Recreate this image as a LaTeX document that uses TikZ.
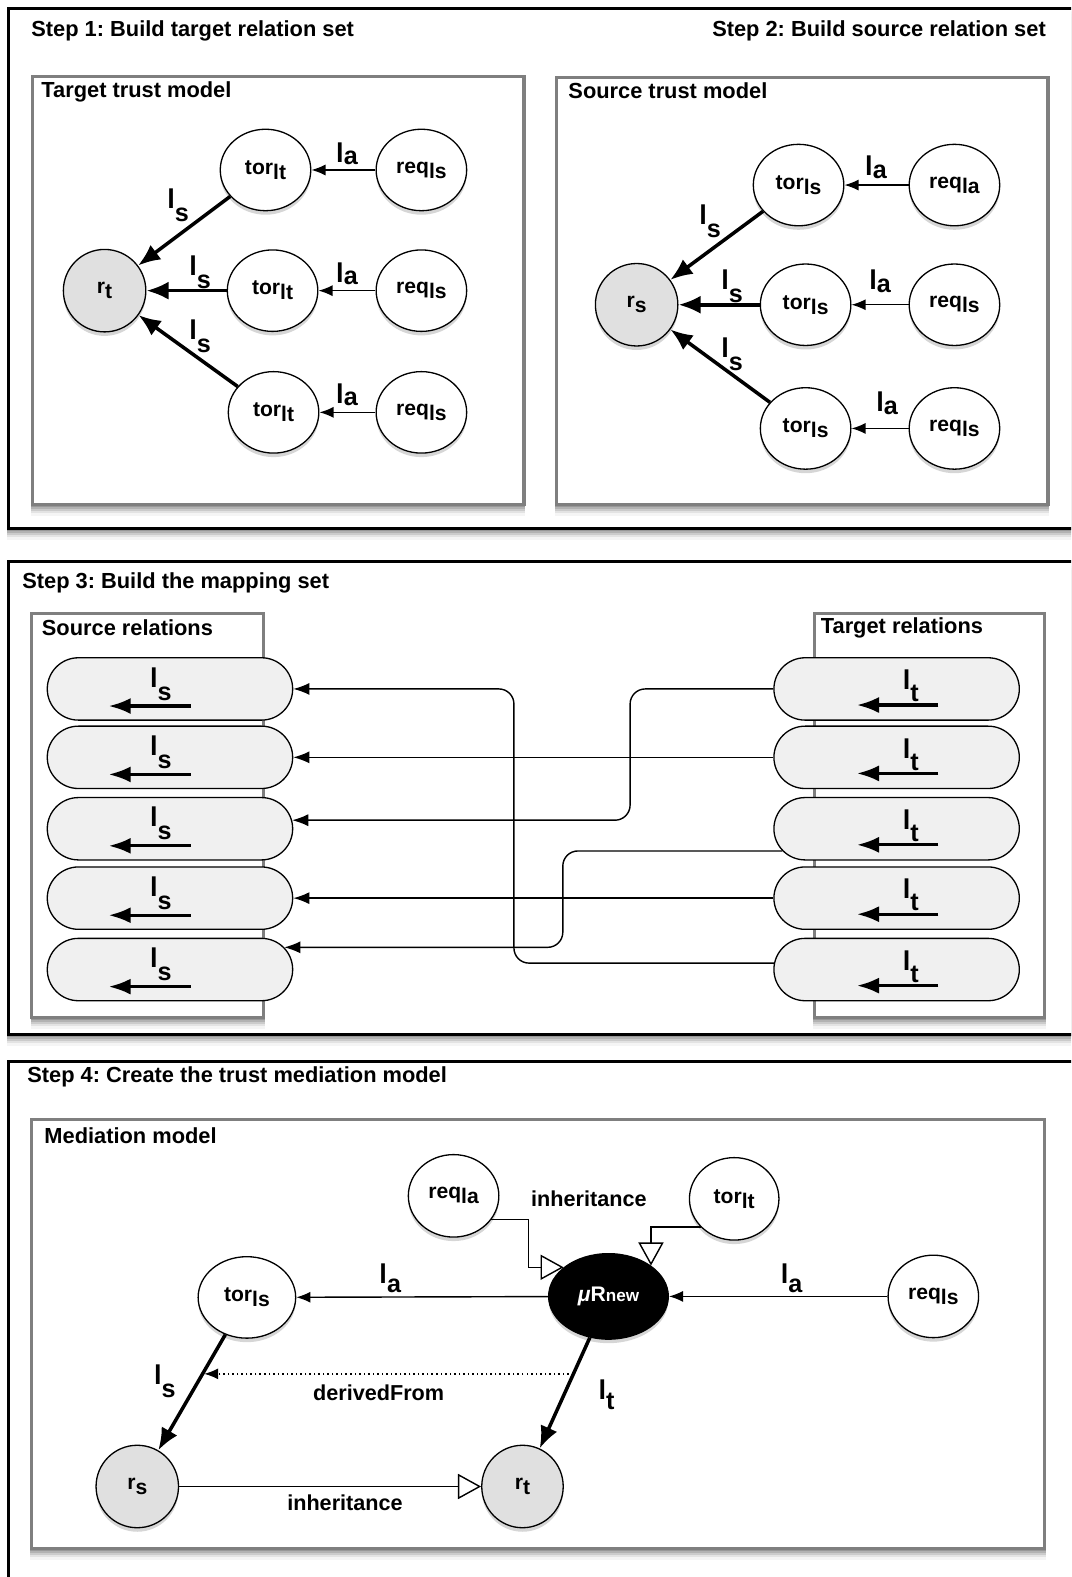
\documentclass[tikz,border=0pt]{standalone}
\usepackage{fontspec}
\setmainfont{Liberation Sans}
\usetikzlibrary{arrows.meta,shapes.geometric,shapes.misc,calc}
\newcommand{\fsz}[1]{\fontsize{#1}{#1}\selectfont}
\newcommand{\nlab}[2]{#1\raisebox{-5pt}{#2}}
\newcommand{\elab}[2]{{\fsz{27}l}\raisebox{-#2pt}{\fsz{25}#1}}
\newcommand{\softshadow}[4]{%
  \foreach \dd/\oo in {1/0.16,2.5/0.14,4/0.12,6/0.10,8.5/0.07,11/0.04}{%
    \fill[black,opacity=\oo] (#1-1,#2+\dd) rectangle (#3+1,#4+\dd);}}
\definecolor{nodegray}{HTML}{E0E0E0}
\definecolor{pillgray}{HTML}{F0F0F0}
\definecolor{boxgray}{HTML}{7F7F7F}
\frenchspacing
\begin{document}
\begin{tikzpicture}[x=1pt,y=-1pt,
  nodeshadow/.style={preaction={draw=none,fill=black,fill opacity=0.16,transform canvas={yshift=-4pt}}},
  outbox/.style={draw=black,line width=3pt,fill=white},
  inbox/.style={draw=boxgray,line width=3pt,fill=white},
  ent/.style={ellipse,draw,line width=1.3pt,fill=white,minimum width=90pt,minimum height=81pt,inner sep=0pt,font=\bfseries\fsz{21},nodeshadow},
  res/.style={ent,fill=nodegray,minimum width=82pt,minimum height=82pt},
  strong/.style={line width=3.5pt,-{Latex[length=22pt,width=18pt]}},
  weak/.style={line width=1.4pt,-{Latex[length=14pt,width=11pt]}},
  title/.style={font=\bfseries\fsz{21.7},inner sep=0pt,anchor=west},
  elabel/.style={font=\bfseries,inner sep=0pt},
  txt/.style={font=\bfseries\fsz{21.5},inner sep=0pt},
  pill/.style={rounded rectangle,draw,line width=1.3pt,fill=pillgray,minimum width=244pt,minimum height=62pt,inner sep=0pt},
  map/.style={line width=1.4pt,-{Latex[length=16pt,width=12pt]},rounded corners=15pt},
  inh/.style={line width=1.4pt,-{Triangle[open,length=23pt,width=25pt,fill=white]}},
  derived/.style={line width=1.4pt,dash pattern=on 1.5pt off 3pt,-{Latex[length=14pt,width=11pt]}},
  icon/.style={line width=3.3pt,-{Latex[length=22pt,width=16pt]}},
]
\path[use as bounding box] (0,0) rectangle (1065,1568);
\clip (0,0) rectangle (1065,1568);
\fill[white] (0,0) rectangle (1065,1568);

% ---------- outer boxes
\softshadow{8}{8}{1067}{525.5}
\draw[outbox] (8,8) rectangle (1067,525.5);
\softshadow{8}{558.5}{1067}{1029}
\draw[outbox] (8,558.5) rectangle (1067,1029);
\draw[outbox] (8,1055) rectangle (1067,1600);

% ---------- Step 1 / 2
\node[title] (st1) at (31,31) {Step 1: Build target relation set};
\node[title,anchor=east] (st2) at (1040,31) {Step 2: Build source relation set};
\softshadow{32}{76}{521}{502}
\draw[inbox] (32,76) rectangle (521,502);
\node[title] (lbA) at (41,91) {Target trust model};
\softshadow{553}{77}{1042}{502}
\draw[inbox] (553,77) rectangle (1042,502);
\node[title] (lbB) at (565,90) {Source trust model};

\node[ent] (tA1) at (264,169) {\nlab{tor}{lt}};
\node[ent] (qA1) at (419,169) {\nlab{req}{ls}};
\node[res] (rA) at (104,289) {\nlab{r}{t}};
\node[ent] (tA2) at (271,289) {\nlab{tor}{lt}};
\node[ent] (qA2) at (419,289) {\nlab{req}{ls}};
\node[ent] (tA3) at (272,410) {\nlab{tor}{lt}};
\node[ent] (qA3) at (419,410) {\nlab{req}{ls}};

\draw[strong] (tA1) -- (rA);
\draw[strong] (tA2) -- (rA);
\draw[strong] (tA3) -- (rA);
\draw[weak] (qA1) -- (tA1);
\draw[weak] (qA2) -- (tA2);
\draw[weak] (qA3) -- (tA3);
\node[elabel] (lA1) at (177,204) {\elab{s}{13}};
\node[elabel] (lA2) at (199,271) {\elab{s}{13}};
\node[elabel] (lA3) at (199,334) {\elab{s}{13}};
\node[elabel] (aA1) at (345,153) {\elab{a}{2}};
\node[elabel] (aA2) at (345,272) {\elab{a}{2}};
\node[elabel] (aA3) at (345,393) {\elab{a}{2}};

\node[ent] (tB1) at (794,184) {\nlab{tor}{ls}};
\node[ent] (qB1) at (949,184) {\nlab{req}{la}};
\node[res] (rB) at (633,303) {\nlab{r}{s}};
\node[ent] (tB2) at (801,303) {\nlab{tor}{ls}};
\node[ent] (qB2) at (949,303) {\nlab{req}{ls}};
\node[ent] (tB3) at (801,426) {\nlab{tor}{ls}};
\node[ent] (qB3) at (949,426) {\nlab{req}{ls}};

\draw[strong] (tB1) -- (rB);
\draw[strong] (tB2) -- (rB);
\draw[strong] (tB3) -- (rB);
\draw[weak] (qB1) -- (tB1);
\draw[weak] (qB2) -- (tB2);
\draw[weak] (qB3) -- (tB3);
\node[elabel] (lB1) at (706,220) {\elab{s}{13}};
\node[elabel] (lB2) at (728,285) {\elab{s}{13}};
\node[elabel] (lB3) at (728,352) {\elab{s}{13}};
\node[elabel] (aB1) at (871,166) {\elab{a}{3}};
\node[elabel] (aB2) at (875,280) {\elab{a}{3}};
\node[elabel] (aB3) at (882,401) {\elab{a}{3}};

% ---------- Step 3
\node[title] (st3) at (22,580) {Step 3: Build the mapping set};
\softshadow{31.5}{610}{262}{1012}
\draw[inbox] (31.5,610) rectangle (262,1012);
\node[title] (lbS) at (41.5,624) {Source relations};
\softshadow{809.5}{610}{1039}{1012}
\draw[inbox] (809.5,610) rectangle (1039,1012);
\node[title] (lbT) at (816,624) {Target relations};

\foreach \i/\y in {1/685,2/753,3/824,4/893,5/964}{
  \node[pill] (sp\i) at (169,\y) {};
  \draw[icon] ($(sp\i.center)+(20.5,17)$) -- ($(sp\i.center)+(-61,17)$);
  \node[elabel] (sl\i) at ($(sp\i.center)+(-9,-5)$) {\elab{s}{13}};
  \node[pill] (tp\i) at (891.5,\y) {};
  \draw[icon] ($(tp\i.center)+(41.5,16)$) -- ($(tp\i.center)+(-39.5,16)$);
  \node[elabel] (tl\i) at ($(tp\i.center)+(14,-3)$) {\elab{t}{12}};
}
\coordinate (b1) at (511,0);
\coordinate (b3) at (626.5,0);
\coordinate (b5) at (559.6,0);
\draw[map] (tp5.177.5) -| (b1 |- sp1.east) -- (sp1.east);
\draw[map] (tp2.west) -- (sp2.east);
\draw[map] (tp1.west) -| (b3 |- sp3.4.5) -- (sp3.4.5);
\draw[map] (tp4.west) -- (sp4.east);
\draw[map] (tp3.191) -| (b5 |- sp5.11) -- (sp5.11);

% ---------- Step 4
\node[title] (st4) at (27,1071) {Step 4: Create the trust mediation model};
\softshadow{31}{1113}{1039}{1540}
\draw[inbox] (31,1113) rectangle (1039,1540);
\node[title] (lbM) at (44,1129) {Mediation model};

\node[ent,minimum width=90pt,minimum height=82pt] (qC1) at (451,1189) {\nlab{req}{la}};
\node[ent,minimum width=89pt,minimum height=82pt] (tC1) at (730,1192) {\nlab{tor}{lt}};
\node[ent,fill=black,text=white,minimum width=119pt,minimum height=85pt] (mu) at (605,1289) {\textit{μ}R{\fsz{17}new}};
\node[ent,minimum width=97pt,minimum height=81pt] (tC2) at (245.5,1290) {\nlab{tor}{ls}};
\node[ent,minimum width=90pt,minimum height=82pt] (qC2) at (928,1289) {\nlab{req}{ls}};
\node[res] (rC1) at (136.5,1478) {\nlab{r}{s}};
\node[res,minimum width=81pt] (rC2) at (519.5,1478) {\nlab{r}{t}};

\draw[weak] (mu) -- (tC2);
\draw[weak] (qC2) -- (mu);
\draw[strong] (tC2) -- (rC1);
\draw[strong] (mu) -- (rC2);
\coordinate (dS) at (570,1366);
\coordinate (dE) at (203,1366);
\draw[derived] (dS) -- (dE);
\draw[inh] (rC1) -- (rC2);
\coordinate (ihA) at (525.4,0);
\draw[inh] (qC1.-32) -| (ihA |- mu.147) -- (mu.147);
\draw[inh] (tC1.220) -| (mu.36.5);

\node[elabel] (aC1) at (388,1271) {\elab{a}{9}};
\node[elabel] (aC2) at (787,1271) {\elab{a}{9}};
\node[elabel] (lC1) at (164,1373) {\elab{s}{13}};
\node[elabel] (lC2) at (603,1387) {\elab{t}{10}};
\node[txt] (inh1) at (585.5,1192) {inheritance};
\node[txt] (inh2) at (343,1494) {inheritance};
\node[txt] (dfr) at (376.5,1385) {derivedFrom};
\end{tikzpicture}
\end{document}
